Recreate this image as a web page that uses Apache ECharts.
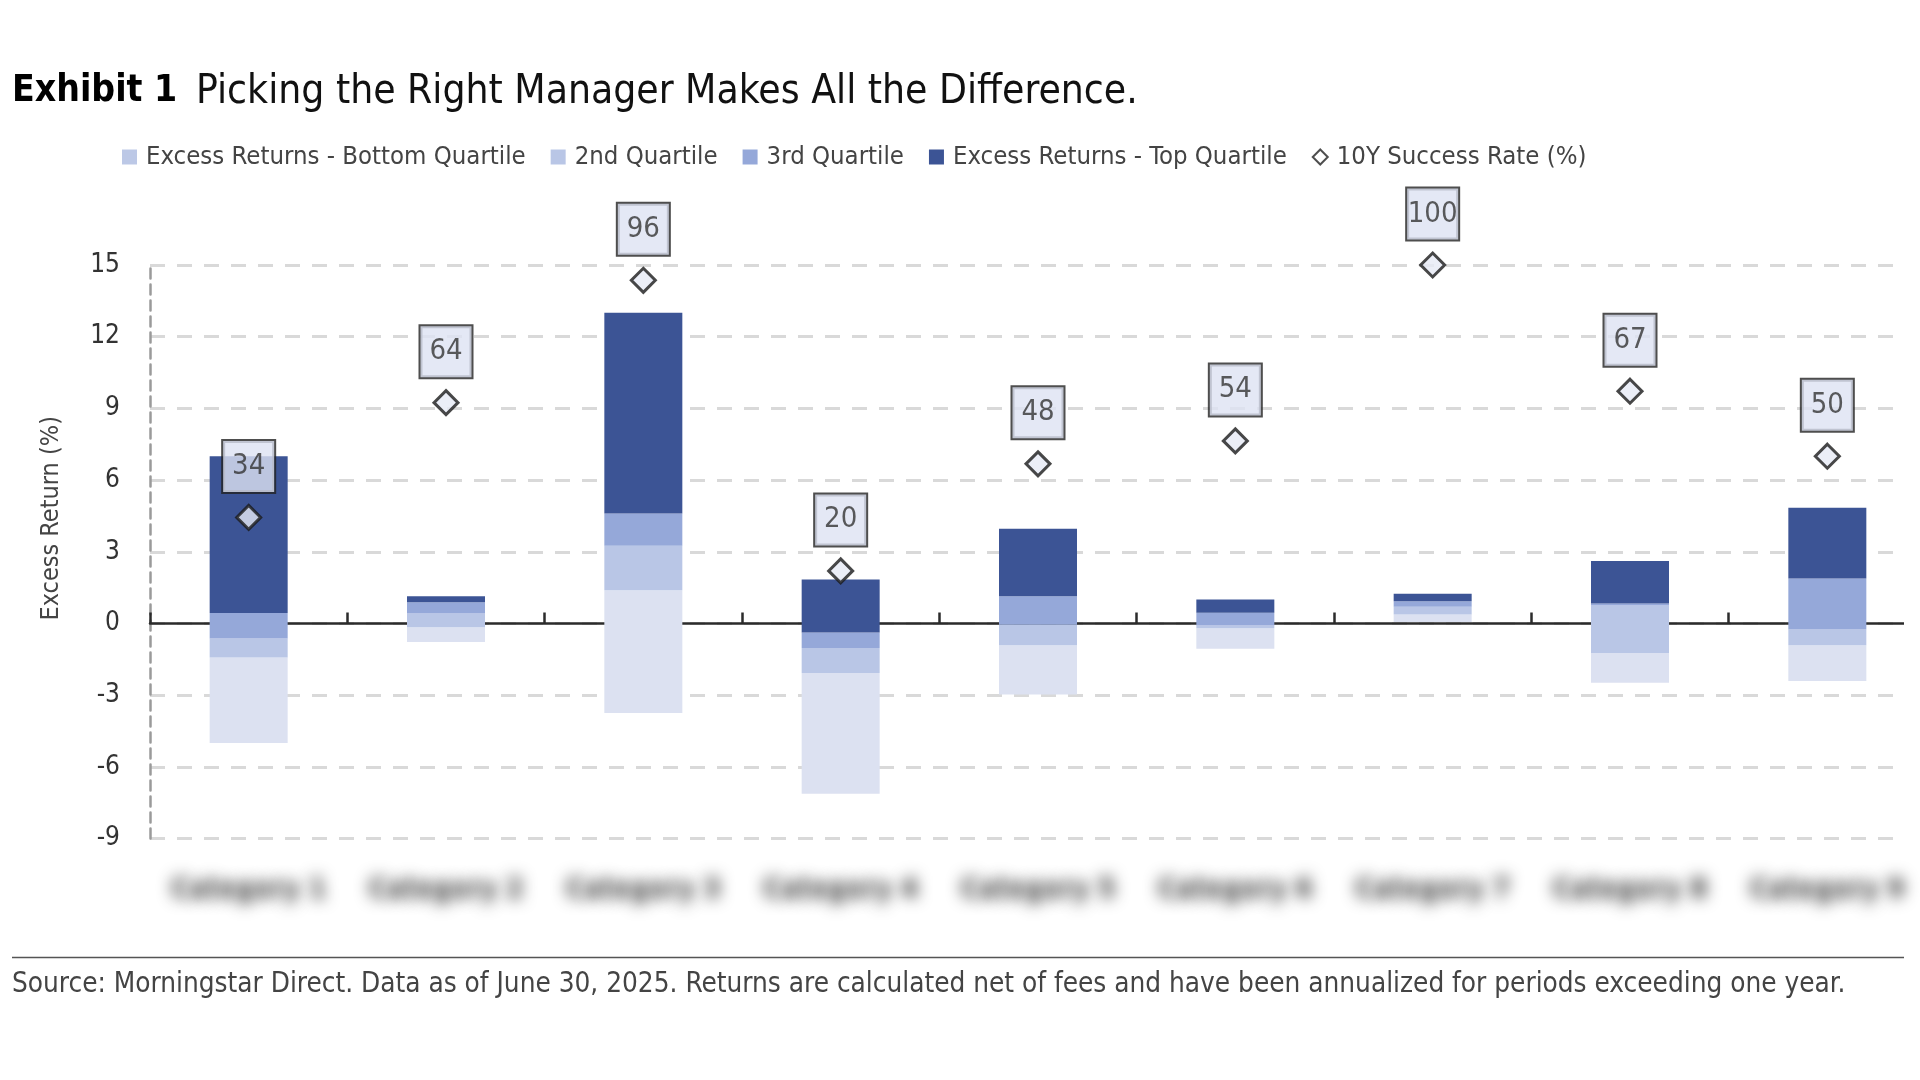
<!DOCTYPE html>
<html><head><meta charset="utf-8">
<script src="https://cdn.jsdelivr.net/npm/echarts@6/dist/echarts.min.js"></script>
<style>html,body{margin:0;padding:0;background:#fff}#c{width:1920px;height:1080px}</style>
</head><body><div id="c"></div>
<script>
// ---- data ----
const categories = ['Category 1','Category 2','Category 3','Category 4','Category 5','Category 6','Category 7','Category 8','Category 9'];
// quartile band edges (excess return, %)
const bottomEdge = [-5.00, -0.77, -3.74, -7.12, -2.97, -1.06, 0.06, -2.48, -2.41];
const q25Edge    = [-1.42, -0.16,  1.39, -2.07, -0.91, -0.20, 0.38, -1.23, -0.91];
const medianEdge = [-0.63,  0.42,  3.25, -1.02, -0.05, -0.08, 0.70,  0.75, -0.25];
const q75Edge    = [ 0.44,  0.89,  4.60, -0.38,  1.14,  0.45, 0.93,  0.84,  1.88];
const topEdge    = [ 7.00,  1.14, 13.00,  1.84,  3.96,  1.00, 1.24,  2.61,  4.84];
const successRate = [34, 64, 96, 20, 48, 54, 100, 67, 50];
const seriesNames = ['Excess Returns - Bottom Quartile','2nd Quartile','3rd Quartile','Excess Returns - Top Quartile','10Y Success Rate (%)'];
const yMin = -9, yMax = 15, yStep = 3;
const rateMin = -50, rateMax = 100;
const titleBold = 'Exhibit 1';
const titleText = 'Picking the Right Manager Makes All the Difference.';
const sourceText = 'Source: Morningstar Direct. Data as of June 30, 2025. Returns are calculated net of fees and have been annualized for periods exceeding one year.';

const FONT = "'DejaVu Sans Condensed','Liberation Sans Narrow','Liberation Sans',sans-serif";
const colors = ['#dce1f1','#b9c6e6','#95a8d9','#3c5495'];
const legendColors = ['#bcc8e6','#b9c6e6','#95a8d9','#3c5495'];

const diff = (a, b) => a.map((v, i) => +(v - b[i]).toFixed(3));
const bands = [diff(q25Edge, bottomEdge), diff(medianEdge, q25Edge), diff(q75Edge, medianEdge), diff(topEdge, q75Edge)];

const chart = echarts.init(document.getElementById('c'), null, {renderer:'canvas'});
const barW = 78;
const barSeries = [{
  name: 'base', type: 'bar', stack: 'q', stackStrategy: 'all', data: bottomEdge,
  barWidth: barW, silent: true, itemStyle: {color: 'rgba(0,0,0,0)'}
}].concat(bands.map((d, i) => ({
  name: seriesNames[i], type: 'bar', stack: 'q', stackStrategy: 'all', data: d,
  barWidth: barW, itemStyle: {color: colors[i]}
})));

const option = {
  backgroundColor: '#fff',
  animation: false,
  textStyle: {fontFamily: FONT},
  legend: {
    left: 117, top: 139, itemWidth: 15, itemHeight: 15, itemGap: 25,
    textStyle: {fontSize: 25.5, color: '#444', fontFamily: FONT, padding: [0,0,0,4]},
    data: seriesNames.slice(0,4).map((n, i) => ({name: n, icon: 'rect', itemStyle: {color: legendColors[i]}}))
      .concat([{name: seriesNames[4], icon: 'diamond', itemStyle: {color: '#fff', borderColor: '#222', borderWidth: 2}}])
  },
  grid: {left: 150, top: 265, width: 1776, height: 573.6, containLabel: false, outerBoundsMode: 'none'},
  xAxis: {
    type: 'category', data: categories,
    axisLine: {onZero: true, onZeroAxisIndex: 0, lineStyle: {color: '#2b2b2b', width: 2.5}},
    axisTick: {show: true, inside: true, length: 11, interval: 0, lineStyle: {color: '#2b2b2b', width: 2.5}},
    axisLabel: {show: false},
    splitLine: {show: false}
  },
  yAxis: [{
    type: 'value', min: yMin, max: yMax, interval: yStep,
    name: 'Excess Return (%)', nameLocation: 'middle', nameRotate: 90, nameGap: 86,
    nameTextStyle: {fontSize: 25, color: '#444', fontFamily: FONT, padding: [0,0,0,67]},
    axisLine: {show: true, onZero: false, lineStyle: {color: '#9a9a9a', width: 2.5, type: [10, 6]}},
    axisTick: {show: false},
    axisLabel: {fontSize: 26, color: '#333', margin: 30, fontFamily: FONT},
    splitLine: {show: true, lineStyle: {color: '#d9d9d9', width: 3, type: [15, 12]}}
  }, {
    type: 'value', min: rateMin, max: rateMax, show: false, splitLine: {show: false}
  }],
  series: barSeries.concat([{
    name: seriesNames[4], type: 'scatter', yAxisIndex: 1, data: successRate,
    symbol: 'diamond', symbolSize: 24, z: 5,
    itemStyle: {color: '#e6eaf5', borderColor: '#1a1a1a', borderWidth: 3},
    label: {
      show: true, position: 'top', distance: 12,
      formatter: p => String(successRate[p.dataIndex]),
      fontSize: 29, color: '#333', fontFamily: FONT,
      backgroundColor: '#dde2f2', borderColor: '#222', borderWidth: 2,
      width: 51, lineHeight: 29, padding: [11, 0, 11, 0], align: 'center'
    }
  }]),
  graphic: [
    {id: 'mask', type: 'rect', z: 100, shape: {x: 1904, y: 240, width: 30, height: 620}, style: {fill: '#fff'}},
    {id: 't1', type: 'text', z: 100, left: 12, top: 73, style: {text: titleBold, fontSize: 37, fontWeight: 'bold', fontFamily: FONT, fill: '#000'}},
    {id: 't2', type: 'text', z: 100, left: 196, top: 73, style: {text: titleText, fontSize: 40.4, fontFamily: FONT, fill: '#111'}},
    {id: 'rule', type: 'line', z: 100, shape: {x1: 12, y1: 957.5, x2: 1904, y2: 957.5}, style: {stroke: '#555', lineWidth: 1.5}},
    {id: 'src', type: 'text', z: 100, left: 12, top: 971, style: {text: sourceText, fontSize: 27.7, fontFamily: FONT, fill: '#444'}}
  ]
};
chart.setOption(option);

// Category names are blurred in the reference: draw each name in white inside the empty
// strip at the bottom and let only its blurred grey text-shadow land under the plot.
const labelY = 891, shift = 149;
const catLabels = categories.map((c, i) => {
  const p = chart.convertToPixel({xAxisIndex: 0, yAxisIndex: 0}, [i, yMin]);
  return {
    id: 'cat' + i, type: 'text', z: 50, x: p[0], y: labelY + shift,
    style: {
      text: c, fill: '#ffffff', fontSize: 28, fontWeight: 'bold', fontFamily: FONT,
      align: 'center', verticalAlign: 'middle',
      textShadowColor: '#2e2e2e', textShadowBlur: 15, textShadowOffsetY: -shift
    }
  };
});
chart.setOption({graphic: catLabels});
</script>
</body></html>
